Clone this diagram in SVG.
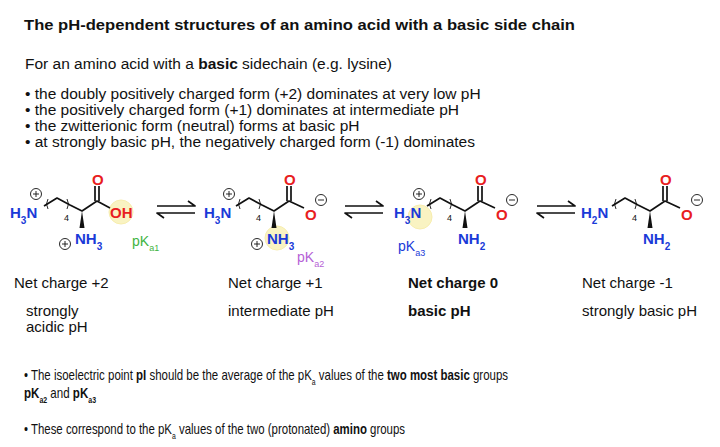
<svg xmlns="http://www.w3.org/2000/svg" width="720" height="447" viewBox="0 0 720 447">
<style>
text{font-family:"Liberation Sans",Arial,sans-serif;fill:#111}
.t{font-size:15.5px}
.b{font-weight:bold}
.n{fill:#1a3ad8;font-size:15px;font-weight:bold}
.o{fill:#e8201e;font-size:15px;font-weight:bold}
.bd{stroke:#111;stroke-width:1.7;fill:none;stroke-linejoin:round}
.ch{fill:none;stroke:#111;stroke-width:0.9}
.s{font-size:9px}
.hl{fill:#f6ec9a;opacity:0.6;stroke:#f3e27a;stroke-width:1}
.cn{font-size:15px}
.bt{font-size:15px}
</style>
<defs>
<g id="plus"><circle r="5.5" class="ch"/><path d="M-3 0H3M0 -3V3" class="ch"/></g>
<g id="minus"><circle r="5.5" class="ch"/><path d="M-3 0H3" class="ch"/></g>
<g id="eq"><path d="M0 206H38L31 201" class="bd" stroke-width="1.4"/><path d="M38 213H0L7 218" class="bd" stroke-width="1.4"/></g>
</defs>
<rect width="720" height="447" fill="#fff"/>
<g id="header">
<text x="24" y="30" class="t b" textLength="551" lengthAdjust="spacingAndGlyphs">The pH-dependent structures of an amino acid with a basic side chain</text>
<text x="25" y="69" class="t">For an amino acid with a <tspan class="b">basic</tspan> sidechain (e.g. lysine)</text>
<text x="25" y="99" class="t">• the doubly positively charged form (+2) dominates at very low pH</text>
<text x="25" y="115" class="t">• the positively charged form (+1) dominates at intermediate pH</text>
<text x="25" y="131" class="t">• the zwitterionic form (neutral) forms at basic pH</text>
<text x="25" y="147" class="t">• at strongly basic pH, the negatively charged form (-1) dominates</text>
</g>
<g id="mol1">
<circle cx="121" cy="212" r="12" class="hl"/>
<path d="M44 206L57 198L70 205L82 211L97 201L110 208" class="bd"/>
<path d="M95 201V186M99 201V186" class="bd" stroke-width="1.4"/>
<path d="M82 211L79.5 228H84.5Z" fill="#111"/>
<path d="M48 199Q45 204 48 209M67 199Q70 204 67 209" class="ch"/>
<text x="64" y="221" class="s">4</text>
<text x="10" y="218" class="n">H<tspan font-size="10" baseline-shift="sub">3</tspan>N</text>
<use href="#plus" x="36" y="194"/>
<text x="92" y="185" class="o">O</text>
<text x="110" y="218" class="o">OH</text>
<text x="75" y="244" class="n">NH<tspan font-size="10" baseline-shift="sub">3</tspan></text>
<use href="#plus" x="65" y="244"/>
<text x="132" y="246" font-size="14" style="fill:#3fb43f">pK<tspan font-size="9" baseline-shift="sub">a1</tspan></text>
</g>
<g id="mol2">
<circle cx="277" cy="238" r="12" class="hl"/>
<path d="M236 206L249 198L262 205L274 211L289 201L304 208" class="bd"/>
<path d="M287 201V186M291 201V186" class="bd" stroke-width="1.4"/>
<path d="M274 211L271.5 228H276.5Z" fill="#111"/>
<path d="M240 199Q237 204 240 209M259 199Q262 204 259 209" class="ch"/>
<text x="256" y="221" class="s">4</text>
<text x="204" y="218" class="n">H<tspan font-size="10" baseline-shift="sub">3</tspan>N</text>
<use href="#plus" x="229" y="194"/>
<text x="284" y="185" class="o">O</text>
<text x="305" y="220" class="o">O</text>
<use href="#minus" x="321" y="200"/>
<text x="267" y="244" class="n">NH<tspan font-size="10" baseline-shift="sub">3</tspan></text>
<use href="#plus" x="257" y="244"/>
<text x="297" y="262" font-size="14" style="fill:#b65fd6">pK<tspan font-size="9" baseline-shift="sub">a2</tspan></text>
</g>
<g id="mol3">
<circle cx="420" cy="217" r="12" class="hl"/>
<path d="M427 206L440 198L453 205L465 211L480 201L495 208" class="bd"/>
<path d="M478 201V186M482 201V186" class="bd" stroke-width="1.4"/>
<path d="M465 211L462.5 228H467.5Z" fill="#111"/>
<path d="M431 199Q428 204 431 209M450 199Q453 204 450 209" class="ch"/>
<text x="447" y="221" class="s">4</text>
<text x="394" y="218" class="n">H<tspan font-size="10" baseline-shift="sub">3</tspan>N</text>
<use href="#plus" x="419" y="194"/>
<text x="475" y="185" class="o">O</text>
<text x="496" y="220" class="o">O</text>
<use href="#minus" x="512" y="200"/>
<text x="458" y="244" class="n">NH<tspan font-size="10" baseline-shift="sub">2</tspan></text>
<text x="398" y="251" font-size="14" style="fill:#1a3ad8">pK<tspan font-size="9" baseline-shift="sub">a3</tspan></text>
</g>
<g id="mol4">
<path d="M612 206L625 198L638 205L650 211L665 201L680 208" class="bd"/>
<path d="M663 201V186M667 201V186" class="bd" stroke-width="1.4"/>
<path d="M650 211L647.5 228H652.5Z" fill="#111"/>
<path d="M616 199Q613 204 616 209M635 199Q638 204 635 209" class="ch"/>
<text x="632" y="221" class="s">4</text>
<text x="581" y="218" class="n">H<tspan font-size="10" baseline-shift="sub">2</tspan>N</text>
<text x="660" y="185" class="o">O</text>
<text x="681" y="220" class="o">O</text>
<use href="#minus" x="697" y="200"/>
<text x="643" y="244" class="n">NH<tspan font-size="10" baseline-shift="sub">2</tspan></text>
</g>
<g id="connectors">
<use href="#eq" x="157"/>
<use href="#eq" x="345"/>
<use href="#eq" x="537"/>
</g>
<g id="labels">
<text x="14" y="288" class="cn">Net charge +2</text>
<text x="26" y="316" class="cn">strongly</text>
<text x="26" y="332" class="cn">acidic pH</text>
<text x="228" y="288" class="cn">Net charge +1</text>
<text x="228" y="316" class="cn">intermediate pH</text>
<text x="408" y="288" class="cn b">Net charge 0</text>
<text x="408" y="316" class="cn b">basic pH</text>
<text x="582" y="288" class="cn">Net charge -1</text>
<text x="582" y="316" class="cn">strongly basic pH</text>
</g>
<g id="footer">
<text x="24" y="380" class="bt" textLength="484" lengthAdjust="spacingAndGlyphs">• The isoelectric point <tspan class="b">pI</tspan> should be the average of the pK<tspan font-size="9" baseline-shift="sub">a</tspan> values of the <tspan class="b">two most basic</tspan> groups</text>
<text x="24" y="398" class="bt b" textLength="72" lengthAdjust="spacingAndGlyphs">pK<tspan font-size="9" baseline-shift="sub">a2</tspan><tspan font-weight="normal"> and </tspan>pK<tspan font-size="9" baseline-shift="sub">a3</tspan></text>
<text x="24" y="434" class="bt" textLength="381" lengthAdjust="spacingAndGlyphs">• These correspond to the pK<tspan font-size="9" baseline-shift="sub">a</tspan> values of the two (protonated) <tspan class="b">amino</tspan> groups</text>
</g>
</svg>
